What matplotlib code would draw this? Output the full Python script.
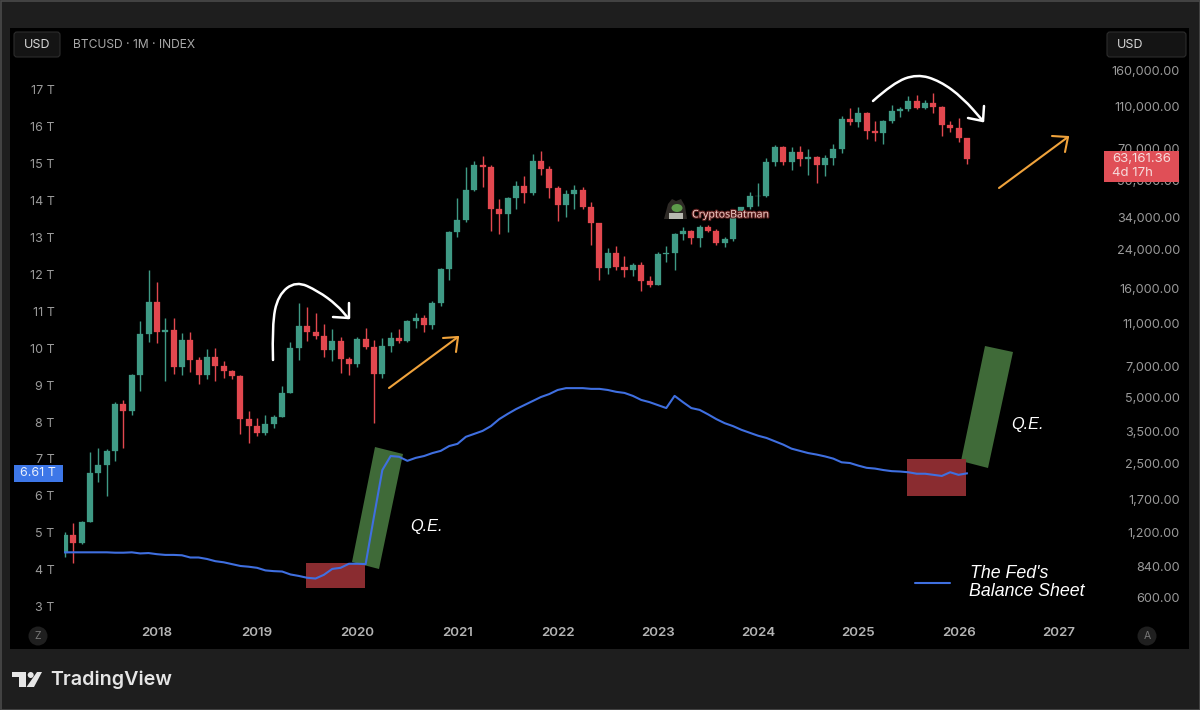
import numpy as np
import matplotlib
matplotlib.use("Agg")
import matplotlib.pyplot as plt
import matplotlib.patheffects as pe
from matplotlib.patches import Rectangle, Polygon, Circle, Ellipse, FancyBboxPatch, PathPatch
from matplotlib.path import Path
from matplotlib.ticker import NullLocator
from matplotlib.transforms import Affine2D, IdentityTransform

# monthly candles, Feb 2017 to Feb 2026
opens = [966, 1168, 1075, 1345, 2250, 2450, 2860, 4700, 4340, 6370, 9840, 13810,
         10000, 10300, 6900, 9250, 7450, 6350, 7700, 6980, 6620, 6320, 3980, 3700,
         3430, 3810, 4100, 5270, 8500, 10700, 10000, 9600, 8300, 9150, 7550, 7190,
         9350, 8540, 6430, 8620, 9450, 9130, 11290, 11650, 10780, 13600, 19600, 29000,
         33100, 45300, 58800, 57600, 36900, 35000, 41500, 47100, 43800, 61300, 56900, 46200,
         38500, 43200, 45500, 37700, 31800, 19900, 23300, 20000, 19400, 20500, 17200, 16550,
         23100, 23150, 28500, 29250, 27200, 30450, 29200, 25950, 27000, 34650, 37700, 42300,
         42600, 61200, 71300, 60650, 67500, 62700, 64600, 59000, 63300, 70300, 96400, 93400,
         102400, 84400, 82500, 94200, 104600, 107100, 115800, 108200, 114000, 109500, 90400, 87500,
         78600]
highs = [1200, 1330, 1350, 2810, 2930, 2900, 4800, 4900, 6450, 11290, 19500, 17090,
         11600, 11600, 9950, 10000, 7700, 8400, 8450, 7400, 6700, 6400, 4340, 4050,
         4170, 4160, 5650, 9050, 13700, 13100, 12300, 10900, 10400, 9500, 7750, 9550,
         10500, 9200, 9450, 10100, 10400, 11450, 12300, 12000, 13900, 19800, 29300, 41750,
         58000, 61700, 64800, 59000, 41000, 42000, 50000, 52500, 66300, 68500, 58600, 47200,
         45300, 47700, 46900, 39700, 32000, 24400, 25000, 22600, 20800, 21100, 18200, 23500,
         25000, 28800, 30700, 29600, 31200, 31200, 30000, 27600, 35200, 38000, 44300, 48600,
         63400, 73000, 72300, 71600, 71900, 69800, 65000, 65700, 73600, 99000, 108400, 109300,
         104000, 94100, 95100, 111900, 109700, 122800, 124100, 117600, 126200, 110700, 94500, 97500,
         79000]
lows = [930, 870, 1060, 1345, 2050, 1760, 2560, 2930, 4150, 5400, 9000, 8900,
        5950, 6450, 6400, 6600, 5800, 6100, 5950, 6200, 6100, 3400, 3100, 3350,
        3380, 3650, 4100, 5270, 7450, 9100, 9300, 7700, 7400, 6500, 6400, 6900,
        8400, 3850, 6150, 8150, 8900, 9000, 10500, 10000, 10400, 13200, 17500, 27600,
        32300, 45000, 47000, 29400, 28400, 29100, 37000, 39300, 42900, 53100, 41500, 32700,
        34100, 37000, 37200, 25300, 17450, 18600, 19400, 18100, 18200, 15450, 16200, 16500,
        21200, 19400, 26700, 25500, 24700, 28900, 25200, 24800, 26500, 34000, 37000, 38200,
        42200, 58700, 59000, 56000, 58500, 53000, 49000, 52600, 58900, 66800, 90300, 88700,
        77800, 76500, 73800, 91900, 97800, 104300, 106500, 107300, 102900, 80400, 83400, 75400,
        59700]
closes = [1168, 1075, 1345, 2250, 2450, 2860, 4700, 4340, 6370, 9840, 13810, 10000,
          10300, 6900, 9250, 7450, 6350, 7700, 6980, 6620, 6320, 3980, 3700, 3430,
          3810, 4100, 5270, 8500, 10700, 10000, 9600, 8300, 9150, 7550, 7190, 9350,
          8540, 6430, 8620, 9450, 9130, 11290, 11650, 10780, 13600, 19600, 29000, 33100,
          45300, 58800, 57600, 36900, 35000, 41500, 47100, 43800, 61300, 56900, 46200, 38500,
          43200, 45500, 37700, 31800, 19900, 23300, 20000, 19400, 20500, 17200, 16550, 23100,
          23150, 28500, 29250, 27200, 30450, 29200, 25950, 27000, 34650, 37700, 42300, 42600,
          61200, 71300, 60650, 67500, 62700, 64600, 59000, 63300, 70300, 96400, 93400, 102400,
          84400, 82500, 94200, 104600, 107100, 115800, 108200, 114000, 109500, 90400, 87500, 78600,
          63161.36]

# fed balance sheet, trillions, same months
balance_sheet = [4.47, 4.47, 4.47, 4.47, 4.47, 4.47, 4.46, 4.46, 4.47, 4.44, 4.45, 4.42,
                 4.40, 4.40, 4.39, 4.33, 4.33, 4.29, 4.23, 4.20, 4.15, 4.10, 4.08, 4.05,
                 3.98, 3.96, 3.95, 3.87, 3.83, 3.78, 3.76, 3.86, 4.02, 4.05, 4.16, 4.16,
                 4.15, 5.44, 6.70, 7.08, 7.06, 6.95, 7.03, 7.08, 7.16, 7.22, 7.35, 7.41,
                 7.60, 7.68, 7.76, 7.89, 8.08, 8.22, 8.35, 8.46, 8.57, 8.68, 8.76, 8.87,
                 8.92, 8.92, 8.92, 8.90, 8.90, 8.87, 8.82, 8.79, 8.71, 8.60, 8.54, 8.46,
                 8.38, 8.71, 8.54, 8.38, 8.33, 8.21, 8.08, 7.97, 7.89, 7.79, 7.71, 7.63,
                 7.57, 7.48, 7.39, 7.28, 7.22, 7.16, 7.12, 7.07, 7.01, 6.91, 6.89, 6.82,
                 6.76, 6.74, 6.70, 6.67, 6.66, 6.64, 6.60, 6.60, 6.57, 6.54, 6.64, 6.57,
                 6.61]

year_labels = ["2018", "2019", "2020", "2021", "2022", "2023", "2024", "2025", "2026", "2027"]
year_months = [11, 23, 35, 47, 59, 71, 83, 95, 107, 119]
price_ticks = [160000, 110000, 70000, 50000, 34000, 24000, 16000, 11000, 7000, 5000,
               3500, 2500, 1700, 1200, 840, 600]
trillion_ticks = [3, 4, 5, 6, 7, 8, 9, 10, 11, 12, 13, 14, 15, 16, 17]

UP = "#3f9a85"
DOWN = "#e2484f"
BLUE = "#3f6fe0"
ORANGE = "#f0a33c"
plt.rcParams["font.family"] = ["Inter", "DejaVu Sans"]

fig = plt.figure(figsize=(12, 7.1), dpi=100, facecolor="#1e1e1e")
# pixel coords of the picture, y going down
px = Affine2D().scale(1, -1).translate(0, 710)

L, R, T, B = 10, 1189, 28, 649
ax = fig.add_axes([L / 1200, 1 - B / 710, (R - L) / 1200, (B - T) / 710], facecolor="black")
ax.set_yscale("log")
ax.set_xlim(-6.587, 134.6)
ax.set_ylim(348.8, 252400)

x = np.arange(len(closes))
o, h, l, c = map(np.array, (opens, highs, lows, closes))
colors = [UP if cc >= oo else DOWN for oo, cc in zip(o, c)]

ax.vlines(x, l, h, colors=colors, linewidth=1.0, zorder=2)
bars = ax.bar(x, np.abs(c - o), bottom=np.minimum(o, c), width=0.72, color=colors,
              edgecolor=colors, linewidth=0.2, zorder=3)
# the first candle is cut by the left edge of the series
bars[0].set_clip_path(Rectangle((64, 0), 1136, 710, transform=IdentityTransform()))

ax.set_xticks(year_months)
ax.set_xticklabels(year_labels, fontsize=9.6, fontweight="semibold", color="#b4b4b4")
ax.tick_params(axis="x", length=0, pad=-16)
for s in ax.spines.values():
    s.set_visible(False)

bs = ax.twinx()
bs.set_ylim(1.85, 18.68)
bs.set_yticks(trillion_ticks)
bs.set_yticklabels([f"{t} T" for t in trillion_ticks], fontsize=9, color="#9a9a9a")
bs.yaxis.tick_left()
bs.tick_params(axis="y", length=0, pad=-32)
for s in bs.spines.values():
    s.set_visible(False)

# twinx moves the price ticks, so set them up after it
ax.yaxis.tick_right()
ax.set_yticks(price_ticks)
ax.set_yticklabels([f"{p:,.2f}" for p in price_ticks], fontsize=9.1, color="#9a9a9a")
ax.yaxis.set_minor_locator(NullLocator())
ax.tick_params(axis="y", which="both", length=0, pad=-6.5)
for t in ax.yaxis.get_major_ticks():
    t.label2.set_ha("right")

# shaded Q.E. boxes sit under the line
box_green = "#3f6a38"
box_red = "#8a2c30"
bs.add_patch(Polygon([(375, 447), (403, 454), (379, 569), (352, 562)], transform=px,
                     fc=box_green, ec="none", zorder=1, clip_on=False))
bs.add_patch(Rectangle((306, 563), 59, 25, transform=px, fc=box_red, ec="none", zorder=1.1, clip_on=False))
bs.add_patch(Polygon([(985, 346), (1013, 352), (988, 468), (961, 461)], transform=px,
                     fc=box_green, ec="none", zorder=1, clip_on=False))
bs.add_patch(Rectangle((907, 459), 59, 37, transform=px, fc=box_red, ec="none", zorder=1.1, clip_on=False))

bs.plot(x, balance_sheet, color=BLUE, linewidth=1.5, zorder=3, solid_joinstyle="round")


def stroke(points, color, lw=1.8, smooth=False):
    if smooth:
        # quadratic pieces through the midpoints
        verts = [points[0]]
        codes = [Path.MOVETO]
        for a, b in zip(points[1:-1], points[2:]):
            mid = ((a[0] + b[0]) / 2, (a[1] + b[1]) / 2)
            verts += [a, mid]
            codes += [Path.CURVE3, Path.CURVE3]
        verts.append(points[-1])
        codes.append(Path.LINETO)
    else:
        verts = points
        codes = [Path.MOVETO] + [Path.LINETO] * (len(points) - 1)
    bs.add_patch(PathPatch(Path(verts, codes), transform=px, fc="none", ec=color, lw=lw,
                           capstyle="round", joinstyle="round", zorder=6, clip_on=False))


# hand drawn arrows
stroke([(273, 360), (272, 325), (278, 295), (296, 281), (318, 291), (337, 305), (348, 318)], "white", smooth=True)
stroke([(349, 303), (349, 318), (333, 317)], "white")
stroke([(873, 101), (893, 83), (917, 74), (940, 81), (963, 98), (983, 121)], "white", smooth=True)
stroke([(984, 106), (983, 121), (968, 118)], "white")
stroke([(389, 388), (458, 337)], ORANGE, lw=1.5)
stroke([(443, 338), (458, 337), (456, 352)], ORANGE, lw=1.5)
stroke([(999, 188), (1068, 137)], ORANGE, lw=1.5)
stroke([(1052, 136), (1068, 137), (1065, 152)], ORANGE, lw=1.5)
stroke([(915, 583), (950, 583)], BLUE, lw=1.5)


def label(xp, yp, s, **kw):
    kw.setdefault("va", "center")
    kw.setdefault("zorder", 8)
    return bs.text(xp, yp, s, transform=px, clip_on=False, **kw)


ital = dict(family=["Liberation Sans"], style="italic", color="white")
label(410, 527, "Q.E.", fontsize=11.7, **ital)
label(1011, 425, "Q.E.", fontsize=11.7, **ital)
label(970, 573, "The Fed's", fontsize=12.8, **ital)
label(969, 591, "Balance Sheet", fontsize=12.8, **ital)

# price and balance tags
bs.add_patch(Rectangle((1104, 151), 75, 31, transform=px, fc="#e04f57", ec="none", zorder=7, clip_on=False))
label(1112, 159, "63,161.36", fontsize=9.5, color="#f6dcdc")
label(1112, 173, "4d 17h", fontsize=9.5, color="#f6dcdc")
bs.add_patch(Rectangle((14, 465), 49, 17, transform=px, fc="#3d77e8", ec="none", zorder=7, clip_on=False))
label(20, 473.5, "6.61 T", fontsize=9, color="#e8effc")

# header
for xb, w, tx in [(14, 46, 24), (1107, 79, 1117)]:
    bs.add_patch(FancyBboxPatch((xb + 2, 34), w - 4, 21, boxstyle="round,pad=2,rounding_size=3", transform=px,
                                fc="#141414", ec="#2c2c2c", lw=0.8, zorder=5, clip_on=False))
    label(tx, 44.5, "USD", fontsize=9, color="#d8d8d8")
label(73, 45, "BTCUSD · 1M · INDEX", fontsize=8.7, color="#a8a8a8")

# scale buttons
for xb, s in [(38, "Z"), (1147, "A")]:
    bs.add_patch(Circle((xb, 636), 9.5, transform=px, fc="#1f1f1f", ec="none", zorder=5, clip_on=False))
    label(xb, 636, s, fontsize=7.5, color="#777777", ha="center")

# watermark
bs.add_patch(Polygon([(664, 219), (668, 204), (672, 199), (676, 201), (681, 199), (685, 206), (687, 219)],
                     transform=px, fc="#2e2a26", ec="none", zorder=7, clip_on=False))
bs.add_patch(Ellipse((677, 208), 11, 8, transform=px, fc="#5d9a4a", ec="none", zorder=7.1, clip_on=False))
bs.add_patch(Rectangle((669, 213), 14, 6, transform=px, fc="#b8b8b0", ec="none", zorder=7.1, clip_on=False))
label(692, 215, "CryptosBatman", fontsize=7.6, color="#f3cfc8", family=["Noto Sans"],
      path_effects=[pe.withStroke(linewidth=1.6, foreground="#5a1c1c")])

# footer logo
bs.add_patch(Polygon([(12, 672), (26, 672), (26, 687), (19, 687), (19, 677), (12, 677)],
                     transform=px, fc="#e6e6e6", ec="none", zorder=8, clip_on=False))
bs.add_patch(Circle((30.7, 675), 3, transform=px, fc="#e6e6e6", ec="none", zorder=8, clip_on=False))
bs.add_patch(Polygon([(37, 672), (42, 672), (34, 687), (26.5, 687)], transform=px,
                     fc="#e6e6e6", ec="none", zorder=8, clip_on=False))
label(50, 680, "TradingView", fontsize=14.2, fontweight="semibold", color="#e6e6e6")

# thin frame round the screenshot
bs.add_patch(Rectangle((0.5, 0.5), 1199, 709, transform=px, fc="none", ec="#4a4a4a", lw=1.2, zorder=9, clip_on=False))

fig.savefig("out.png", dpi=100, facecolor=fig.get_facecolor())
